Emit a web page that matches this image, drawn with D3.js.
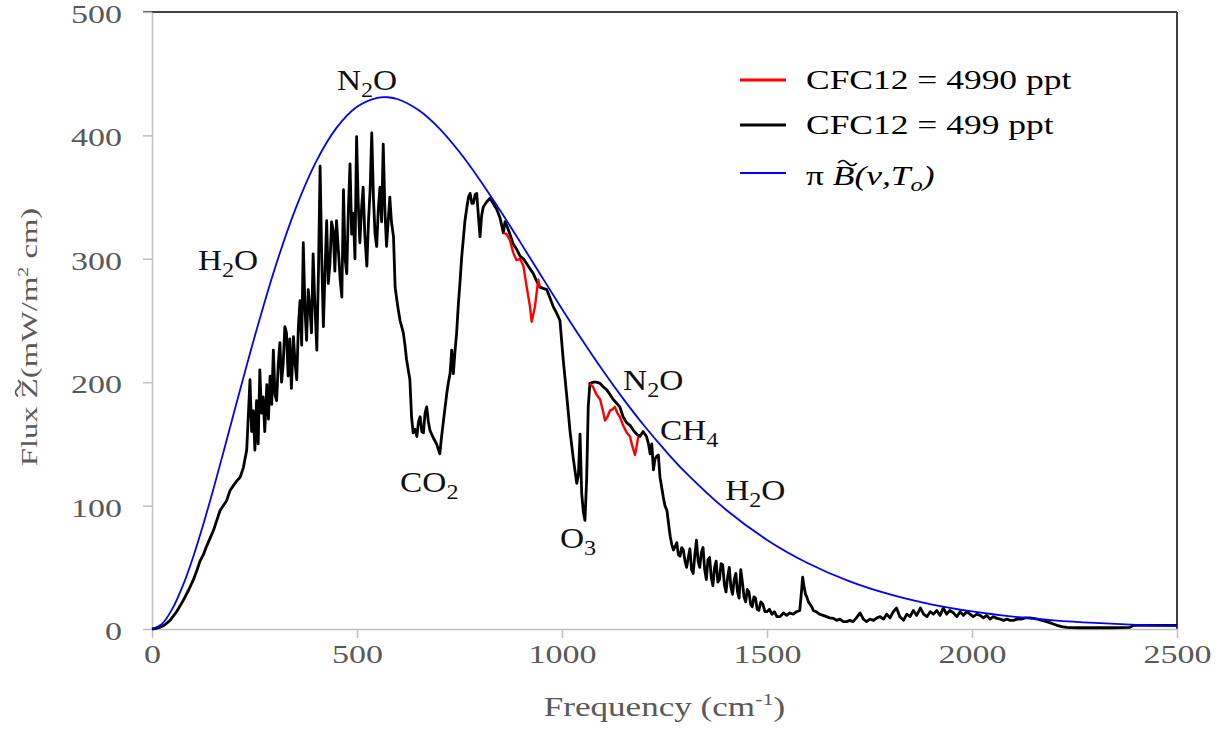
<!DOCTYPE html>
<html>
<head>
<meta charset="utf-8">
<script src="https://cdn.jsdelivr.net/npm/d3@7"></script>
<style>
  body { margin: 0; background: #fff; }
  text { font-family: "Liberation Serif", "Times New Roman", serif; }
</style>
</head>
<body>
<svg id="chart"></svg>
<script>
// pi*B(nu,To)
const blueCurve = [
  [0,0],[25,4.4],[50,16.6],[75,34.9],[100,58.0],[125,84.7],[150,113.7],[175,144.3],[200,175.4],
  [250,236.5],[300,292.6],[350,340.5],[400,378.6],[450,406.1],[500,423.2],[550,430.5],[575,430.9],
  [600,429.3],[650,420.5],[700,405.9],[750,386.5],[800,363.7],[850,338.7],[900,312.5],[950,285.8],
  [1000,259.4],[1050,233.8],[1100,209.3],[1150,186.3],[1200,164.9],[1250,145.3],[1300,127.3],
  [1400,96.6],[1500,72.2],[1600,53.3],[1700,38.8],[1800,28.0],[1900,20.0],[2000,14.2],[2100,10.0],
  [2200,7.0],[2300,4.9],[2400,3.4],[2500,2.3]
];

// CFC12 = 499 ppt (black)
const blackCurve = [
  [0,0],[10,0.5],[20,1.5],[30,3],[44,7],[60,14],[76,23],[90,32],[101,40],[110,48],[117,55],[125,60],
  [133,67],[141,73],[150,80],[158,88],[166,96],[174,100],[182,104],[190,112],[198,116],[207,120],
  [215,123],[223,131],[231,145],[239,202],[243,160],[247,177],[251,145],[255,185],[259,150],[263,210],
  [267,175],[271,188],[275,160],[280,198],[284,170],[288,205],[292,182],[296,226],[300,190],[304,185],
  [308,215],[312,232],[316,200],[320,215],[324,245],[328,240],[332,205],[336,235],[340,195],[345,237],
  [349,215],[353,202],[357,245],[361,266],[365,230],[369,313],[373,260],[377,234],[381,275],[385,261],
  [389,240],[393,304],[397,265],[402,226],[406,290],[410,375],[414,300],[418,245],[422,290],[426,331],
  [430,280],[434,296],[438,330],[442,323],[446,290],[450,331],[454,310],[459,283],[463,269],[467,356],
  [471,300],[475,288],[479,340],[483,377],[487,320],[491,337],[495,300],[499,399],[503,345],[507,313],
  [511,340],[515,358],[519,320],[524,294],[528,330],[532,356],[536,402],[540,350],[544,320],[548,310],
  [552,340],[556,358],[560,330],[564,393],[568,340],[572,310],[576,330],[580,350],[584,330],[589,318],
  [593,277],[597,267],[601,258],[605,250],[609,245],[613,240],[617,230],[621,218],[625,210],[629,202],
  [633,172],[637,159],[641,162],[646,156],[650,168],[654,172],[658,160],[662,159],[666,175],[670,180],
  [674,168],[678,161],[686,155],[694,150],[702,142],[706,155],[711,169],[715,180],[719,191],[723,200],
  [727,207],[731,226],[735,207],[739,225],[743,240],[747,262],[751,280],[755,300],[759,315],[763,330],
  [768,342],[772,350],[776,353],[780,345],[784,345],[788,352],[792,353],[796,335],[800,318],[804,335],
  [808,342],[816,346],[824,349],[832,345],[841,340],[849,333],[857,321],[861,330],[865,327],[873,320],
  [881,312],[889,308],[898,302],[906,300],[914,296],[922,292],[930,288],[938,282],[946,277],[954,276],
  [963,275],[971,268],[979,261],[987,256],[995,250],[1003,218],[1011,191],[1020,159],[1028,137],
  [1036,118],[1040,125],[1044,158],[1048,110],[1052,95],[1056,88],[1060,120],[1064,180],[1068,199],
  [1076,200],[1084,200],[1093,199],[1101,196],[1109,194],[1117,190],[1125,186],[1133,183],[1141,180],
  [1149,172],[1158,167],[1166,165],[1174,161],[1182,158],[1190,156],[1198,160],[1206,156],[1211,150],
  [1215,142],[1219,150],[1223,129],[1227,138],[1231,140],[1235,141],[1239,123],[1243,115],[1247,107],
  [1251,100],[1256,96],[1260,85],[1264,75],[1268,68],[1272,64],[1276,67],[1280,70],[1284,60],[1288,59],
  [1292,66],[1296,64],[1300,55],[1304,50],[1308,58],[1312,65],[1316,48],[1320,45],[1324,60],[1328,72],
  [1332,55],[1336,50],[1340,62],[1344,66],[1348,48],[1352,40],[1356,56],[1360,58],[1364,42],[1368,35],
  [1372,50],[1376,55],[1380,38],[1384,40],[1388,53],[1392,52],[1396,36],[1400,30],[1404,42],[1408,50],
  [1412,34],[1416,28],[1420,40],[1424,45],[1428,30],[1432,25],[1436,48],[1440,38],[1444,26],[1448,22],
  [1452,32],[1456,30],[1460,20],[1464,18],[1468,26],[1472,25],[1476,16],[1480,15],[1485,22],[1490,20],
  [1495,14],[1500,14],[1506,16],[1512,12],[1518,14],[1524,10],[1532,10],[1540,13],[1548,11],[1556,13],
  [1564,12],[1572,14],[1580,15],[1584,30],[1587,42],[1590,35],[1594,28],[1597,26],[1601,22],[1605,20],
  [1609,18],[1613,15],[1620,14],[1628,12],[1637,11],[1645,10],[1653,9],[1662,8.6],[1670,7],[1678,8],
  [1686,6],[1694,6],[1702,7],[1710,6],[1718,9],[1727,13],[1735,8],[1743,6],[1751,8],[1760,7],[1768,9],
  [1776,10],[1784,8],[1792,12],[1800,9],[1808,14],[1816,17],[1824,10],[1833,7],[1841,12],[1849,10],
  [1857,15],[1865,11],[1874,17],[1882,12],[1890,10],[1898,14],[1906,12],[1914,15],[1922,11],[1930,17],
  [1938,12],[1946,15],[1955,13],[1963,10],[1971,14],[1979,11],[1987,14],[1995,12],[2003,10],[2012,12],
  [2020,11],[2028,9],[2036,11],[2044,8],[2052,10],[2061,8.6],[2069,8],[2077,7],[2085,8],[2093,7],
  [2101,7],[2110,8],[2120,8],[2130,9],[2140,9],[2150,8.6],[2160,8],[2170,7],[2182,6],[2195,4.5],
  [2207,3],[2219,2],[2231,1.3],[2260,1],[2300,1],[2340,1],[2385,1.3],[2394,3],[2450,3],[2500,3]
];

// CFC12 = 4990 ppt (red): only where it departs from the black curve
const redDip1 = [
  [857,321],[865,320],[873,315],[881,305],[889,299],[898,300],[906,294],[914,277],[922,261],
  [926,249],[930,255],[934,261],[938,272],[942,283],[946,277]
];
const redDip2 = [
  [1068,199],[1076,196],[1084,190],[1093,186],[1099,178],[1105,169],[1111,172],[1117,177],
  [1123,178],[1129,180],[1135,175],[1141,172],[1149,165],[1158,159],[1166,156],[1170,150],
  [1178,141],[1182,148],[1186,156]
];

const xTicks = [0, 500, 1000, 1500, 2000, 2500];
const yTicks = [0, 100, 200, 300, 400, 500];
const legendLabels = ["CFC12 = 4990 ppt", "CFC12 = 499 ppt"];

// band labels: [main, subscript, tail, nu, flux]
const bandLabels = [
  ["N", "2", "O", 451, 437],
  ["H", "2", "O", 112, 291],
  ["CO", "2", "", 605, 111],
  ["O", "3", "", 995, 65.6],
  ["N", "2", "O", 1149, 193.7],
  ["CH", "4", "", 1239, 153],
  ["H", "2", "O", 1398, 104.5]
];

const svgWidth = 1227, svgHeight = 729;
const margin = {top: 12, right: 50, bottom: 100, left: 152};
const width = svgWidth - margin.left - margin.right;
const height = svgHeight - margin.top - margin.bottom;

const svg = d3.select("#chart").attr("width", svgWidth).attr("height", svgHeight);

const x = d3.scaleLinear().domain([0, 2500]).range([margin.left, margin.left + width]);
const y = d3.scaleLinear().domain([0, 500]).range([margin.top + height, margin.top]);

const axisGray = "#bfbfbf", textGray = "#595959";

// small tilde drawn as a path (centre cx, baseline cy)
function tilde(g, cx, cy, w, h, color) {
  const a = cx - w / 2;
  g.append("path")
    .attr("d", "M" + a + "," + cy + " Q" + (a + w / 4) + "," + (cy - h) + " " + (a + w / 2) + "," + cy +
      " T" + (a + w) + "," + cy)
    .attr("fill", "none").attr("stroke", color).attr("stroke-width", 1.6);
}

// frame top / right
svg.append("line")
  .attr("x1", x(0) - 9).attr("x2", x(2500)).attr("y1", y(500)).attr("y2", y(500))
  .attr("stroke", "#404040").attr("stroke-width", 2);
svg.append("line")
  .attr("x1", x(2500)).attr("x2", x(2500)).attr("y1", y(500)).attr("y2", y(0))
  .attr("stroke", "#404040").attr("stroke-width", 2);

// x axis
const gx = svg.append("g")
  .attr("transform", "translate(0," + y(0) + ")")
  .call(d3.axisBottom(x).tickValues(xTicks).tickSize(9).tickSizeOuter(0).tickPadding(7)
    .tickFormat(d3.format("d")));
gx.select(".domain").attr("stroke", axisGray).attr("stroke-width", 1.5);
gx.selectAll(".tick line").attr("stroke", axisGray).attr("stroke-width", 1.5);
gx.selectAll(".tick text")
  .attr("fill", textGray).attr("font-size", 25)
  .attr("font-family", "Liberation Serif, serif")
  .attr("transform", "scale(1.36,1)");

// y axis
const gy = svg.append("g")
  .attr("transform", "translate(" + x(0) + ",0)")
  .call(d3.axisLeft(y).tickValues(yTicks).tickSize(9).tickSizeOuter(0).tickPadding(21));
gy.select(".domain").attr("stroke", axisGray).attr("stroke-width", 1.5);
gy.selectAll(".tick line").attr("stroke", axisGray).attr("stroke-width", 1.5);
gy.selectAll(".tick text")
  .attr("fill", textGray).attr("font-size", 25)
  .attr("font-family", "Liberation Serif, serif")
  .attr("x", 0).attr("dy", "0.42em")
  .attr("transform", "translate(-30,0) scale(1.36,1)");

// axis titles
const xt = svg.append("text")
  .attr("transform", "translate(" + ((x(0) + x(2500)) / 2) + ",716) scale(1.3,1)")
  .attr("text-anchor", "middle").attr("fill", textGray).attr("font-size", 27);
xt.append("tspan").text("Frequency (cm");
xt.append("tspan").attr("font-size", 17).attr("dy", -11).text("-1");
xt.append("tspan").attr("dy", 11).text(")");

const yg = svg.append("g")
  .attr("transform", "translate(37,337) rotate(-90) scale(1.42,1)");
const yt = yg.append("text")
  .attr("text-anchor", "middle").attr("fill", textGray).attr("font-size", 23);
yt.append("tspan").text("Flux Z(mW/m");
yt.append("tspan").attr("font-size", 14).attr("dy", -9).text("2");
yt.append("tspan").attr("dy", 9).text(" cm)");
const zBox = yt.node().getExtentOfChar(5);
tilde(yg, zBox.x + zBox.width / 2, -19, zBox.width * 0.8, 5, textGray);

// curves
const line = d3.line().x(d => x(d[0])).y(d => y(d[1]));
const smooth = d3.line().x(d => x(d[0])).y(d => y(d[1])).curve(d3.curveCatmullRom);

svg.append("path").datum(blackCurve)
  .attr("d", line).attr("fill", "none").attr("stroke", "#000")
  .attr("stroke-width", 2.8).attr("stroke-linejoin", "round");

svg.selectAll(".red").data([redDip1, redDip2]).enter().append("path")
  .attr("class", "red").attr("d", line).attr("fill", "none")
  .attr("stroke", "#ff0000").attr("stroke-width", 2.4).attr("stroke-linejoin", "round");

svg.append("path").datum(blueCurve)
  .attr("d", smooth).attr("fill", "none").attr("stroke", "#0000ff").attr("stroke-width", 1.8);

// band labels
bandLabels.forEach(function(b) {
  const t = svg.append("text")
    .attr("transform", "translate(" + x(b[3]) + "," + y(b[4]) + ") scale(1.15,1)")
    .attr("font-size", 29).attr("fill", "#111");
  t.append("tspan").text(b[0]);
  t.append("tspan").attr("font-size", 21).attr("dy", 7).text(b[1]);
  if (b[2]) t.append("tspan").attr("dy", -7).text(b[2]);
});

// legend
const legendColors = ["#ff0000", "#000000", "#0000ff"];
const legendY = [80, 125, 173];
legendColors.forEach(function(c, i) {
  svg.append("line")
    .attr("x1", 740).attr("x2", 786).attr("y1", legendY[i]).attr("y2", legendY[i])
    .attr("stroke", c).attr("stroke-width", i === 2 ? 2 : 3);
});
legendLabels.forEach(function(s, i) {
  svg.append("text")
    .attr("transform", "translate(806," + (legendY[i] + 9) + ") scale(1.29,1)")
    .attr("font-size", 27.5).attr("fill", "#000").text(s);
});
const lg = svg.append("g").attr("transform", "translate(806," + (legendY[2] + 12) + ") scale(1.29,1)");
const lt = lg.append("text").attr("font-size", 27.5).attr("fill", "#000");
lt.append("tspan").text("\u03c0 ");
lt.append("tspan").attr("font-style", "italic").text("B");
lt.append("tspan").attr("font-style", "italic").text("(\u03bd,T");
lt.append("tspan").attr("font-style", "italic").attr("font-size", 19).attr("dy", 6).text("o");
lt.append("tspan").attr("font-style", "italic").attr("dy", -6).text(")");
const bBox = lt.node().getExtentOfChar(2);
tilde(lg, bBox.x + bBox.width / 2 + 3, -22, bBox.width * 0.85, 5, "#000");
</script>
</body>
</html>
